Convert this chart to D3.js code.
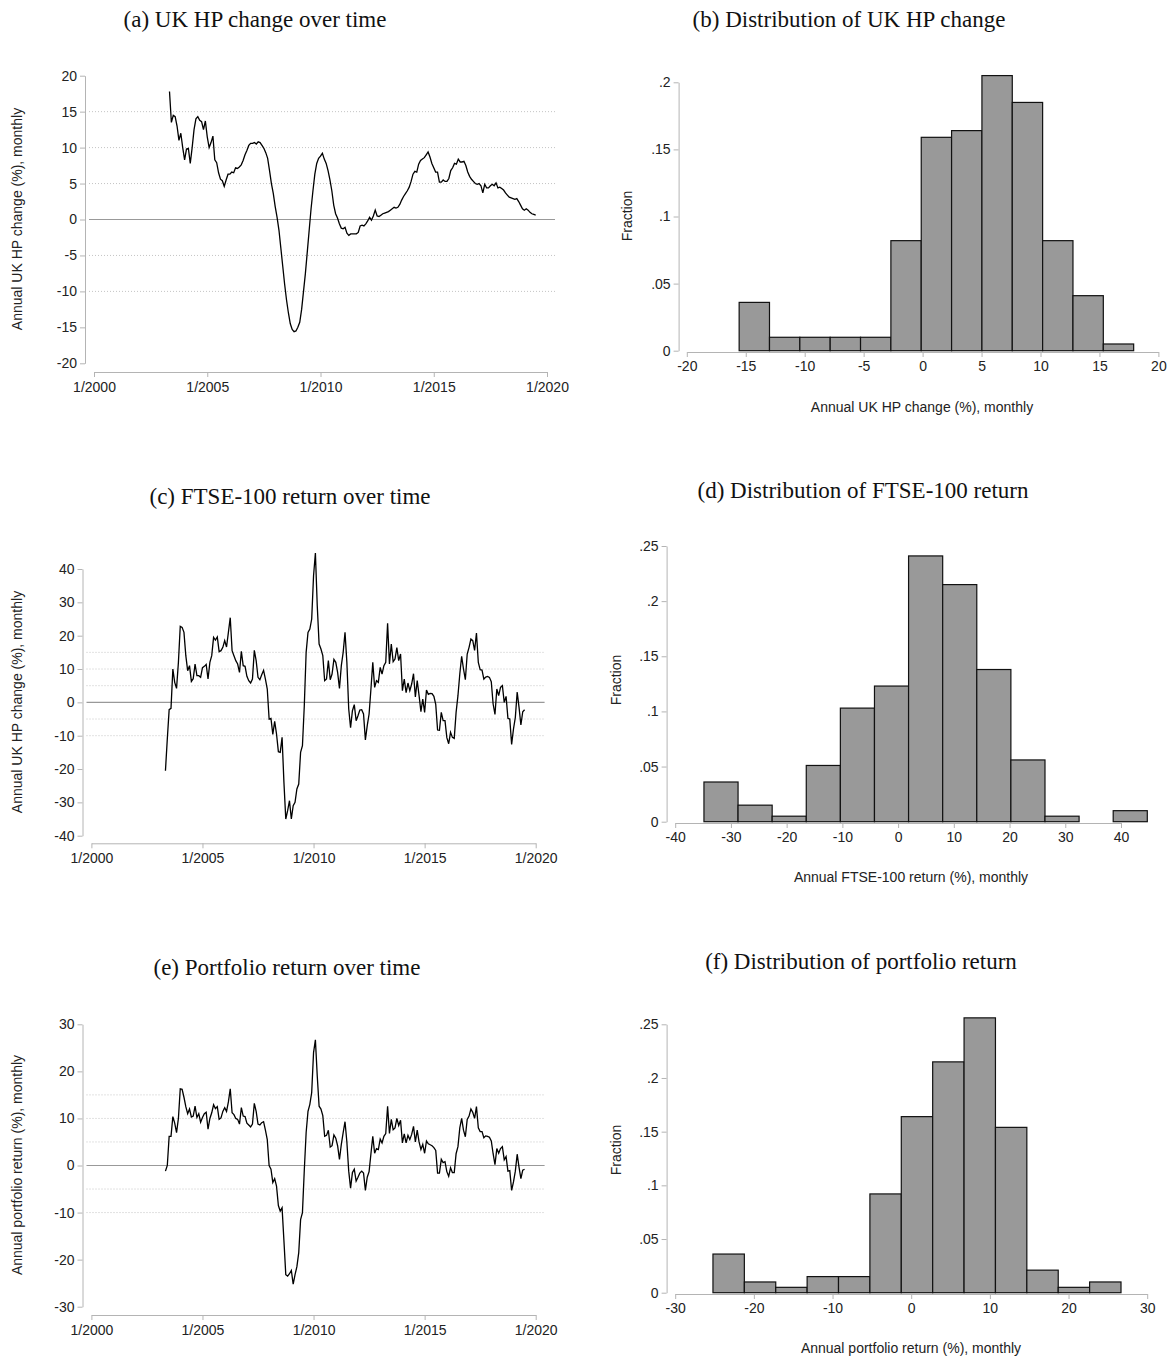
<!DOCTYPE html>
<html>
<head>
<meta charset="utf-8">
<script src="https://cdn.jsdelivr.net/npm/d3@7"></script>
<style>
  body { margin: 0; background: #fff; }
  svg { display: block; }
  .title { font-family: "Liberation Serif", "DejaVu Serif", serif; font-size: 23px; fill: #111; }
  .lab { font-family: "Liberation Sans Narrow", "Liberation Sans", Arial, sans-serif; font-size: 14px; fill: #222; }
  .axis text { font-family: "Liberation Sans Narrow", "Liberation Sans", Arial, sans-serif; font-size: 14px; fill: #222; }
  .axis path, .axis line { stroke: #b4b4b4; }
</style>
</head>
<body>
<div id="chart"></div>
<script>
// monthly series, 2003m5 .. 2019m7
var startYear = 2003, startMonth = 5;

var hpChange = [
  17.8, 13.5, 14.5, 14.3, 13.0, 11.0, 12.0, 10.0,
  8.3, 9.8, 9.9, 7.8, 10.0, 12.5, 14.0, 14.3, 13.8, 13.6, 12.5, 13.7,
  11.5, 10.0, 10.7, 11.6, 8.3, 7.9, 6.5, 5.6, 5.4, 4.6, 5.5, 6.3,
  6.3, 6.6, 6.5, 7.2, 7.1, 7.3, 7.6, 8.2, 9.0, 9.6, 10.3, 10.6,
  10.6, 10.7, 10.5, 10.8, 10.7, 10.3, 9.9, 9.3, 8.5, 6.8, 5.0, 3.6,
  1.8, 0.3, -1.5, -4.0, -6.5, -9.0, -11.2, -13.0, -14.5, -15.3, -15.6, -15.5,
  -15.0, -14.3, -12.5, -10.0, -7.5, -4.5, -1.5, 1.5, 4.0, 6.3, 7.8, 8.5,
  8.8, 9.2, 8.4, 7.8, 6.8, 5.5, 4.0, 2.0, 0.8, 0.2, -0.6, -1.2,
  -1.3, -1.1, -1.9, -2.2, -2.0, -2.0, -2.0, -2.0, -1.8, -0.9, -0.8, -0.9,
  -0.6, -0.2, 0.3, -0.1, 0.5, 1.3, 0.5, 0.4, 0.6, 0.8, 0.9, 1.0,
  1.1, 1.3, 1.5, 1.7, 1.6, 1.7, 2.1, 2.7, 3.2, 3.6, 4.0, 4.5,
  5.3, 6.3, 6.7, 6.6, 7.7, 8.2, 8.4, 8.6, 9.0, 9.4, 8.7, 7.8,
  7.2, 6.6, 6.6, 5.2, 5.2, 5.5, 5.3, 5.3, 5.7, 6.8, 7.2, 7.8,
  7.7, 8.4, 8.0, 8.0, 8.1, 7.5, 6.6, 6.0, 5.6, 5.3, 5.0, 4.9,
  5.0, 4.7, 3.7, 4.9, 4.4, 4.4, 4.7, 4.9, 4.7, 5.1, 4.4, 4.5,
  4.3, 4.1, 3.7, 3.4, 3.1, 3.0, 2.9, 2.8, 2.9, 2.5, 2.0, 1.5,
  1.3, 1.5, 1.3, 1.0, 0.8, 0.7, 0.6
];

var ftseReturn = [
  -20.5, -11.0, -2.2, -1.8, 10.0, 6.0, 4.2, 12.0,
  22.8, 22.5, 21.0, 14.0, 9.5, 11.0, 6.3, 7.1, 11.5, 8.0, 8.0, 7.5,
  10.4, 10.8, 11.4, 7.0, 12.0, 14.0, 19.5, 18.7, 19.6, 15.2, 15.5, 16.5,
  18.5, 16.6, 21.0, 25.4, 15.5, 14.0, 12.5, 11.5, 9.0, 15.3, 11.0, 10.8,
  7.8, 6.5, 5.8, 7.0, 15.6, 12.5, 7.5, 6.8, 8.3, 9.6, 7.0, 4.0,
  -5.0, -4.8, -9.6, -5.7, -9.5, -14.8, -15.0, -10.5, -24.0, -35.0, -32.5, -29.5,
  -35.0, -31.0, -30.0, -26.0, -24.5, -15.0, -13.0, -1.0, 15.0, 21.0, 22.0, 25.0,
  38.0, 44.8, 29.0, 17.5, 16.0, 14.0, 6.5, 7.0, 12.5, 6.8, 8.5, 12.9,
  12.0, 9.0, 4.2, 11.0, 15.0, 21.0, 12.0, -2.0, -7.6, -2.5, -0.7, -5.5,
  -4.0, -2.3, -2.2, -3.5, -11.3, -7.0, -3.5, 4.0, 12.0, 4.5, 6.5, 6.0,
  10.5, 8.5, 11.0, 12.0, 23.7, 11.5, 17.5, 12.2, 13.0, 16.4, 12.5, 14.5,
  3.5, 7.0, 2.9, 5.8, 3.5, 5.5, 8.6, 1.6, 6.5, 2.0, -2.8, 1.0,
  -3.0, 3.7, 2.4, 2.7, 2.6, 1.8, -0.6, -8.3, -8.4, -3.0, -5.5, -5.5,
  -10.6, -12.4, -9.0, -10.5, -10.8, -3.0, 2.0, 8.5, 13.8, 10.0, 6.8, 14.5,
  16.5, 19.0, 18.5, 15.6, 20.8, 12.0, 9.8, 9.7, 7.0, 7.6, 7.8, 7.5,
  6.2, -0.5, -3.6, 4.0, 2.0, 4.5, 5.0, 0.0, 1.8, -4.8, -5.0, -12.6,
  -8.0, -4.5, 3.1, -1.5, -6.8, -2.8, -2.2
];

var portReturn = [
  -1.2, 0.0, 6.2, 6.2, 10.4, 9.0, 7.0, 10.0,
  16.3, 16.2, 14.5, 12.5, 11.0, 12.0, 10.3, 10.5, 12.6, 10.2, 11.0, 9.2,
  10.2, 11.0, 11.3, 7.7, 10.0, 11.2, 12.9, 12.1, 12.5, 9.8, 10.1, 11.5,
  12.3, 11.5, 13.5, 16.3, 11.2, 10.8, 10.0, 9.8, 8.8, 12.3, 10.5, 10.4,
  9.0, 8.6, 8.2, 8.8, 13.2, 11.5, 8.8, 8.6, 9.1, 9.3, 7.5, 5.5,
  0.0, -0.8, -3.6, -2.8, -4.4, -8.5, -9.7, -9.0, -16.0, -23.2, -23.5, -23.0,
  -22.3, -25.2, -23.2, -21.5, -18.5, -11.5, -10.0, -1.0, 7.0, 11.5, 13.0, 15.5,
  24.0, 26.7, 19.0, 12.6, 12.0, 10.6, 6.2, 6.4, 7.5, 3.9, 4.2, 6.5,
  5.8, 4.2, 1.3, 4.5, 7.0, 9.3, 5.0, -1.2, -4.8, -1.5, -0.8, -3.3,
  -2.5, -1.6, -1.2, -1.6, -5.3, -2.5, -1.3, 2.5, 6.2, 2.6, 3.6, 3.4,
  5.6, 4.8, 6.2, 6.8, 12.6, 6.8, 9.8, 7.6, 8.0, 10.0, 8.5, 9.6,
  4.8, 6.7, 4.8, 6.4, 5.5, 6.6, 8.3, 5.0, 7.5, 5.0, 3.4, 4.5,
  2.6, 5.2, 4.6, 4.4, 4.2, 3.8, 3.2, -1.6, -1.6, 1.3, 0.6, 0.8,
  -1.3, -2.3, -0.5, -1.5, -1.5, 2.5, 4.0, 8.0, 10.0, 7.5, 6.1, 9.8,
  10.5, 12.0, 11.3, 10.0, 12.5, 8.0, 7.2, 7.2, 5.9, 6.3, 6.2, 6.0,
  5.2, 2.5, 0.2, 3.6, 2.6, 3.6, 4.0, 1.2, 1.9, -1.2, -1.1, -5.3,
  -3.5, -1.2, 2.4, -0.4, -2.8, -1.0, -0.8
];

// histograms: first bin edge, bin width, fraction per bin
var hpBinStart = -15.56, hpBinWidth = 2.574;
var hpFraction = [0.036, 0.010, 0.010, 0.010, 0.010, 0.082, 0.159, 0.164, 0.205, 0.185, 0.082, 0.041, 0.005];

var ftseBinStart = -34.84, ftseBinWidth = 6.12;
var ftseFraction = [0.036, 0.015, 0.005, 0.051, 0.103, 0.123, 0.241, 0.215, 0.138, 0.056, 0.005, 0, 0.010];

var portBinStart = -25.2, portBinWidth = 3.99;
var portFraction = [0.036, 0.010, 0.005, 0.015, 0.015, 0.092, 0.164, 0.215, 0.256, 0.154, 0.021, 0.005, 0.010];

var yearTicks = [2000, 2005, 2010, 2015, 2020];
var refLines = [-10, -5, 5, 10, 15];

var svg = d3.select("#chart").append("svg")
  .attr("width", 1173).attr("height", 1360);

// plain hyphen for negatives, Stata style ".05" for fractions
function numFmt(d) { return String(d); }
function fracFmt(d) {
  return d === 0 ? "0" : String(+d.toFixed(2)).replace(/^0/, "");
}

function timePanel(o) {
  var x = d3.scaleLinear().domain([2000, 2020]).range(o.xr);
  var y = d3.scaleLinear().domain(o.yd).range(o.yr);
  var g = svg.append("g");

  g.append("text").attr("class", "title")
    .attr("x", o.tx).attr("y", o.ty).attr("text-anchor", "middle").text(o.title);

  g.selectAll(".ref").data(refLines).enter().append("line")
    .attr("class", "ref")
    .attr("x1", o.yx + 4).attr("x2", o.gx)
    .attr("y1", function(d){ return y(d); }).attr("y2", function(d){ return y(d); })
    .attr("stroke", "#c4c4c4").attr("stroke-width", 1).attr("stroke-dasharray", "1,2");
  g.append("line")
    .attr("x1", o.yx + 4).attr("x2", o.gx).attr("y1", y(0)).attr("y2", y(0))
    .attr("stroke", "#999").attr("stroke-width", 1.2);

  g.append("g").attr("class", "axis")
    .attr("transform", "translate(" + o.yx + ",0)")
    .call(d3.axisLeft(y).tickValues(o.yt).tickSize(5).tickSizeOuter(0).tickPadding(3).tickFormat(numFmt));
  g.append("g").attr("class", "axis")
    .attr("transform", "translate(0," + o.xy + ")")
    .call(d3.axisBottom(x).tickValues(yearTicks).tickSize(5).tickSizeOuter(0).tickPadding(5)
      .tickFormat(function(d){ return "1/" + d; }));

  var line = d3.line()
    .x(function(d, i){ return x(startYear + (startMonth - 1 + i) / 12); })
    .y(function(d){ return y(d); });
  g.append("path").datum(o.data)
    .attr("d", line).attr("fill", "none").attr("stroke", "#000").attr("stroke-width", 1.3);

  g.append("text").attr("class", "lab")
    .attr("transform", "translate(" + o.lx + "," + o.ly + ") rotate(-90)")
    .attr("text-anchor", "middle").text(o.ylab);
}

function histPanel(o) {
  var x = d3.scaleLinear().domain(o.xd).range(o.xr);
  var y = d3.scaleLinear().domain(o.yd).range(o.yr);
  var g = svg.append("g");

  g.append("text").attr("class", "title")
    .attr("x", o.tx).attr("y", o.ty).attr("text-anchor", "middle").text(o.title);

  g.append("g").attr("class", "axis")
    .attr("transform", "translate(" + o.yx + ",0)")
    .call(d3.axisLeft(y).tickValues(o.yt).tickSize(5).tickSizeOuter(0).tickPadding(3).tickFormat(fracFmt));
  g.append("g").attr("class", "axis")
    .attr("transform", "translate(0," + o.xy + ")")
    .call(d3.axisBottom(x).tickValues(o.xt).tickSize(5).tickSizeOuter(0).tickPadding(4).tickFormat(numFmt));

  var bins = o.data.map(function(f, i) {
    return { x0: o.start + i * o.width, x1: o.start + (i + 1) * o.width, f: f };
  }).filter(function(b){ return b.f > 0; });

  g.selectAll("rect").data(bins).enter().append("rect")
    .attr("x", function(b){ return x(b.x0); })
    .attr("width", function(b){ return x(b.x1) - x(b.x0); })
    .attr("y", function(b){ return y(b.f); })
    .attr("height", function(b){ return y(0) - y(b.f); })
    .attr("fill", "#999").attr("stroke", "#111").attr("stroke-width", 1.2);

  g.append("text").attr("class", "lab")
    .attr("transform", "translate(" + o.lx + "," + o.ly + ") rotate(-90)")
    .attr("text-anchor", "middle").text("Fraction");
  g.append("text").attr("class", "lab")
    .attr("x", o.xlx).attr("y", o.xly).attr("text-anchor", "middle").text(o.xlab);
}

timePanel({
  title: "(a) UK HP change over time", tx: 255, ty: 27,
  data: hpChange, yd: [-20, 20], yr: [363.3, 75.7], yt: d3.range(-20, 21, 5),
  xr: [94, 547], yx: 85, xy: 372, gx: 555,
  ylab: "Annual UK HP change (%), monthly", lx: 22, ly: 219
});
timePanel({
  title: "(c) FTSE-100 return over time", tx: 290, ty: 504,
  data: ftseReturn, yd: [-40, 40], yr: [835.7, 569], yt: d3.range(-40, 41, 10),
  xr: [91.4, 535.7], yx: 82.5, xy: 843.3, gx: 544.6,
  ylab: "Annual UK HP change (%), monthly", lx: 22, ly: 702
});
timePanel({
  title: "(e) Portfolio return over time", tx: 287, ty: 975,
  data: portReturn, yd: [-30, 30], yr: [1306.7, 1024.3], yt: d3.range(-30, 31, 10),
  xr: [91.4, 535.7], yx: 82.5, xy: 1315, gx: 544.6,
  ylab: "Annual portfolio return (%), monthly", lx: 22, ly: 1165
});

histPanel({
  title: "(b) Distribution of UK HP change", tx: 849, ty: 27,
  data: hpFraction, start: hpBinStart, width: hpBinWidth,
  xd: [-20, 20], xr: [686.8, 1158.4], xt: d3.range(-20, 21, 5),
  yd: [0, 0.2], yr: [350.7, 82.3], yt: [0, 0.05, 0.1, 0.15, 0.2],
  yx: 678.6, xy: 352, lx: 632, ly: 216,
  xlab: "Annual UK HP change (%), monthly", xlx: 922, xly: 412
});
histPanel({
  title: "(d) Distribution of FTSE-100 return", tx: 863, ty: 498,
  data: ftseFraction, start: ftseBinStart, width: ftseBinWidth,
  xd: [-40, 40], xr: [675.2, 1121], xt: d3.range(-40, 41, 10),
  yd: [0, 0.25], yr: [821.7, 546], yt: [0, 0.05, 0.1, 0.15, 0.2, 0.25],
  yx: 666.6, xy: 823, lx: 621, ly: 680,
  xlab: "Annual FTSE-100 return (%), monthly", xlx: 911, xly: 882
});
histPanel({
  title: "(f) Distribution of portfolio return", tx: 861, ty: 969,
  data: portFraction, start: portBinStart, width: portBinWidth,
  xd: [-30, 30], xr: [675.2, 1147.2], xt: d3.range(-30, 31, 10),
  yd: [0, 0.25], yr: [1292.7, 1024.3], yt: [0, 0.05, 0.1, 0.15, 0.2, 0.25],
  yx: 666.6, xy: 1294, lx: 621, ly: 1150,
  xlab: "Annual portfolio return (%), monthly", xlx: 911, xly: 1353
});
</script>
</body>
</html>
